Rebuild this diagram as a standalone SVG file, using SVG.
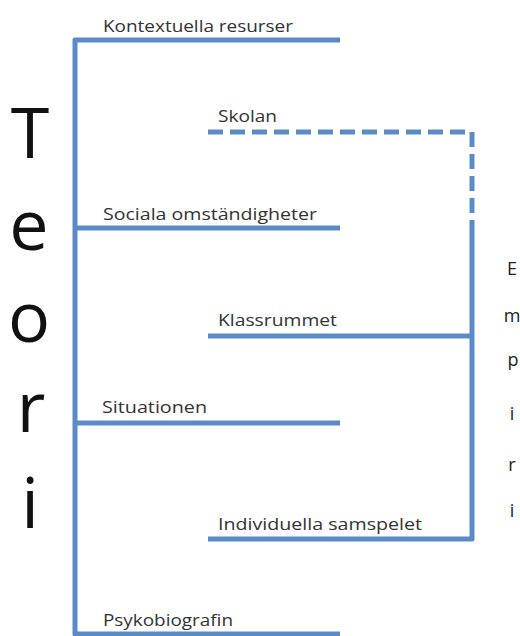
<svg xmlns="http://www.w3.org/2000/svg" width="520" height="636" viewBox="0 0 520 636">
<style>
.ln{stroke:#5a8bc6;stroke-width:5;fill:none;stroke-linecap:butt;stroke-linejoin:round}
.ds{stroke-dasharray:15 7}
.lbl{font-family:"Open Sans","Liberation Sans",sans-serif;font-size:16px;fill:#333}
.big{font-family:"Open Sans","Liberation Sans",sans-serif;font-size:70px;fill:#111;text-anchor:middle}
.emp{font-family:"Open Sans","Liberation Sans",sans-serif;font-size:18px;fill:#222;text-anchor:middle}
</style>
<rect width="520" height="636" fill="#fff"/>
<g id="connectors">
<path class="ln" d="M340,40 H75 V634 H340"/>
<path class="ln" d="M75,228 H340"/>
<path class="ln" d="M75,423 H340"/>
<path class="ln ds" d="M208,132 H472 V229"/>
<path class="ln" d="M472,229 V539 H208"/>
<path class="ln" d="M208,336 H472"/>
</g>
<g id="teori">
<text class="big" x="30" y="158">T</text>
<text class="big" x="29" y="250">e</text>
<text class="big" x="29" y="342">o</text>
<text class="big" x="31" y="432">r</text>
<text class="big" x="30" y="528">i</text>
</g>
<g id="empiri">
<text class="emp" x="512" y="275">E</text>
<text class="emp" x="512" y="322">m</text>
<text class="emp" x="513" y="366">p</text>
<text class="emp" x="512" y="420">i</text>
<text class="emp" x="512" y="471">r</text>
<text class="emp" x="512" y="517">i</text>
</g>
<g id="kontextuella"><text class="lbl" x="103" y="32" textLength="190" lengthAdjust="spacingAndGlyphs">Kontextuella resurser</text></g>
<g id="skolan"><text class="lbl" x="218" y="122" textLength="59" lengthAdjust="spacingAndGlyphs">Skolan</text></g>
<g id="sociala"><text class="lbl" x="103" y="220" textLength="214" lengthAdjust="spacingAndGlyphs">Sociala omständigheter</text></g>
<g id="klassrummet"><text class="lbl" x="218" y="326" textLength="119" lengthAdjust="spacingAndGlyphs">Klassrummet</text></g>
<g id="situationen"><text class="lbl" x="102" y="413" textLength="105" lengthAdjust="spacingAndGlyphs">Situationen</text></g>
<g id="individuella"><text class="lbl" x="218" y="530" textLength="204" lengthAdjust="spacingAndGlyphs">Individuella samspelet</text></g>
<g id="psykobiografin"><text class="lbl" x="103" y="626" textLength="130" lengthAdjust="spacingAndGlyphs">Psykobiografin</text></g>
</svg>
